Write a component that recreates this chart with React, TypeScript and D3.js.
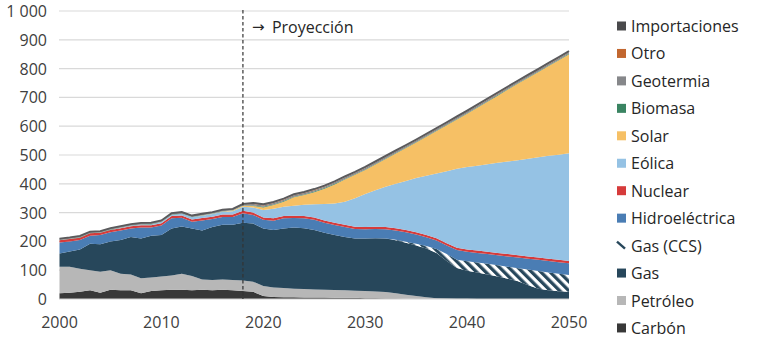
import React from "react";
import * as d3 from "d3";

const years: number[] = [
  2000, 2001, 2002, 2003, 2004, 2005, 2006, 2007, 2008, 2009,
  2010, 2011, 2012, 2013, 2014, 2015, 2016, 2017, 2018, 2019,
  2020, 2021, 2022, 2023, 2024, 2025, 2026, 2027, 2028, 2029,
  2030, 2031, 2032, 2033, 2034, 2035, 2036, 2037, 2038, 2039,
  2040, 2041, 2042, 2043, 2044, 2045, 2046, 2047, 2048, 2049, 2050,
];

const carbon = [20,22,25,30,22,32,30,30,20,28,30,32,32,30,32,30,32,30,28,25,10,7,6,6,5,5,5,4,4,4,3,3,2,2,1,0,0,0,0,0,0,0,0,0,0,0,0,0,0,0,0];
const petroleo = [92,90,80,70,73,68,58,55,52,47,48,50,56,50,36,36,36,36,36,35,35,33,32,30,30,28,27,27,26,25,25,23,22,18,14,10,6,3,2,1,1,0,0,0,0,0,0,0,0,0,0];
const gas = [46,53,67,92,95,100,117,130,138,145,144,163,164,165,170,184,190,192,201,202,200,200,207,212,211,207,198,191,185,181,182,185,186,184,180,176,169,157,130,107,97,92,85,78,70,62,48,36,30,27,25];
const gasCcs = [0,0,0,0,0,0,0,0,0,0,0,0,0,0,0,0,0,0,0,0,0,0,0,0,0,0,0,0,0,0,0,0,0,2,4,6,9,14,24,28,33,35,37,39,42,45,54,61,62,61,58];
const hidro = [38,35,33,28,32,32,33,30,38,28,33,35,30,23,35,28,27,27,33,30,30,32,35,33,34,35,35,35,35,33,32,32,32,32,33,32,30,29,30,34,33,33,34,35,36,37,38,39,40,40,41];
const nuclear = [8,8,8,8,8,8,8,8,8,8,8,8,8,8,8,8,8,8,8,8,8,8,8,8,8,8,8,8,8,8,8,8,8,8,8,8,8,8,8,8,8,8,8,8,8,8,8,8,8,8,8];
const eolica = [0,0,0,0,0,0,1,1,2,3,4,4,6,8,8,9,10,12,14,18,26,33,32,35,39,46,57,67,80,99,115,127,140,154,170,188,206,225,250,274,286,295,304,313,321,330,339,348,357,365,374];
const solar = [0,0,0,0,0,0,0,0,0,0,0,0,0,0,1,1,1,2,4,5,9,13,18,29,34,42,53,66,77,81,83,89,96,105,114,123,135,147,159,171,185,201,217,233,250,266,281,296,312,328,344];
const biomasa = [1,1,1,1,1,1,1,1,1,1,1,1,1,1,1,1,1,1,1,2,2,2,2,2,2,2,2,2,2,2,2,2,2,2,2,2,2,2,2,2,2,2,2,2,2,2,2,2,2,2,2];
const geotermia = [4,4,4,4,4,4,4,4,4,4,4,4,4,4,4,4,4,4,4,5,5,5,5,5,5,5,5,5,5,5,5,5,5,5,5,5,5,5,5,5,5,5,5,5,5,5,5,5,5,5,5];
const otro = [0,0,0,0,0,0,0,0,0,0,0,0,0,0,0,0,0,0,0,1,1,1,1,1,1,1,1,1,1,1,1,1,1,1,1,1,1,1,1,1,1,1,1,1,1,1,1,1,1,1,1];
const importaciones = [1,1,1,1,1,1,1,1,1,1,1,1,1,1,1,1,1,1,1,3,3,3,3,3,3,3,3,3,3,3,3,3,3,3,3,3,3,3,3,3,3,3,3,3,3,3,3,3,3,3,3];

const yTicks = [0, 100, 200, 300, 400, 500, 600, 700, 800, 900, 1000];
const xTicks = [2000, 2010, 2020, 2030, 2040, 2050];
const projectionYear = 2018;

const seriesKeys = [
  "carbon", "petroleo", "gas", "gasCcs", "hidro", "nuclear",
  "eolica", "solar", "biomasa", "geotermia", "otro", "importaciones",
];
const seriesValues: Record<string, number[]> = {
  carbon, petroleo, gas, gasCcs, hidro, nuclear, eolica, solar, biomasa, geotermia, otro, importaciones,
};
const seriesLabels: Record<string, string> = {
  carbon: "Carbón", petroleo: "Petróleo", gas: "Gas", gasCcs: "Gas (CCS)",
  hidro: "Hidroeléctrica", nuclear: "Nuclear", eolica: "Eólica", solar: "Solar",
  biomasa: "Biomasa", geotermia: "Geotermia", otro: "Otro", importaciones: "Importaciones",
};
const colors: Record<string, string> = {
  carbon: "#383838", petroleo: "#b7b7b7", gas: "#27475b", gasCcs: "url(#hatch)",
  hidro: "#4a7db4", nuclear: "#d63b3b", eolica: "#95c2e4", solar: "#f6c065",
  biomasa: "#3a8462", geotermia: "#86878a", otro: "#c2672f", importaciones: "#4a4a4c",
};

const W = 768, H = 343;
const FONT = "'Open Sans', 'Noto Sans', sans-serif";

export default function App() {
  const x = d3.scaleLinear().domain([2000, 2050]).range([59.5, 569]);
  const y = d3.scaleLinear().domain([0, 1000]).range([299, 11]);

  const rows = years.map((yr, i) => {
    const r: any = { year: yr };
    seriesKeys.forEach((k) => (r[k] = seriesValues[k][i]));
    return r;
  });
  const stacked = d3.stack<any>().keys(seriesKeys)(rows);
  const area = d3
    .area<any>()
    .x((d) => x(d.data.year))
    .y0((d) => y(d[0]))
    .y1((d) => y(d[1]));
  const topLine = d3
    .line<any>()
    .x((d) => x(d.data.year))
    .y((d) => y(d[1]));

  const legendOrder = [...seriesKeys].reverse();

  return (
    <svg
      width={W}
      height={H}
      style={{ position: "absolute", left: 0, top: 0, background: "#fff" }}
      fontFamily={FONT}
    >
      <defs>
        <pattern id="hatch" patternUnits="userSpaceOnUse" width="6.5" height="6.5" patternTransform="rotate(-45)">
          <rect x="0" y="0" width="6.5" height="6.5" fill="#ffffff" />
          <rect x="0" y="0" width="3.3" height="6.5" fill="#27475b" />
        </pattern>
      </defs>

      {yTicks.filter((t) => t > 0).map((t) => (
        <line key={t} x1={59} x2={569} y1={y(t)} y2={y(t)} stroke="#d9d9d9" strokeWidth={1.2} />
      ))}

      {stacked.map((s) => (
        <path key={s.key} d={area(s) || ""} fill={colors[s.key]} stroke="none" />
      ))}
      <path d={topLine(stacked[stacked.length - 1]) || ""} fill="none" stroke="#5a5a5c" strokeWidth={1.8} />

      <line x1={59} x2={569} y1={y(0)} y2={y(0)} stroke="#d0d0d0" strokeWidth={1.2} />

      <line
        x1={x(projectionYear)} x2={x(projectionYear)} y1={y(1000) - 1} y2={y(0)}
        stroke="#333" strokeWidth={1.2} strokeDasharray="3.5,2.5"
      />
      <text x={x(projectionYear) + 9} y={27} fontSize={16} fill="#262626" dominantBaseline="central">
        <tspan fontFamily="'DejaVu Sans', sans-serif" fontSize={15}>→</tspan>
        <tspan x={x(projectionYear) + 29}>Proyección</tspan>
      </text>

      {yTicks.map((t) => (
        <text key={t} x={47} y={y(t)} fontSize={16} fill="#404040" textAnchor="end" dominantBaseline="central">
          {t === 1000 ? "1 000" : String(t)}
        </text>
      ))}
      {xTicks.map((t) => (
        <text key={t} x={x(t)} y={322} fontSize={16} fill="#404040" textAnchor="middle" dominantBaseline="central">
          {t}
        </text>
      ))}

      {legendOrder.map((k, i) => {
        const cy = 26 + i * 27.45;
        return (
          <g key={k}>
            {k === "gasCcs" ? (
              <line x1={617} y1={cy - 4} x2={625} y2={cy + 3} stroke="#27475b" strokeWidth={2.4} />
            ) : (
              <rect x={617} y={cy - 4.5} width={9} height={9} fill={colors[k]} />
            )}
            <text x={631} y={cy} fontSize={16} fill="#262626" dominantBaseline="central">
              {seriesLabels[k]}
            </text>
          </g>
        );
      })}
    </svg>
  );
}
